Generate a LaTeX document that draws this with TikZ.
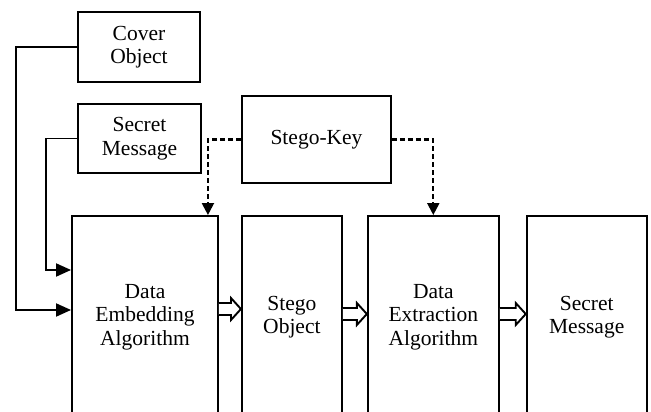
\documentclass[tikz,border=0pt]{standalone}
\usepackage{fontspec}
\setmainfont{Liberation Serif}
\usetikzlibrary{positioning,arrows.meta,calc}

% open block arrow between two neighbouring boxes, #3 = shift from the box centre
\newcommand{\fatarrow}[3]{%
    \draw[fat] ($(#1.east)+(0,#3+6)$) -- ($(#2.west)+(-10,#3+6)$) --
        ($(#2.west)+(-10,#3+11)$) -- ($(#2.west)+(0,#3)$) --
        ($(#2.west)+(-10,#3-11)$) -- ($(#2.west)+(-10,#3-6)$) --
        ($(#1.east)+(0,#3-6)$);}

\begin{document}
\begin{tikzpicture}[x=1pt,y=1pt,line width=1.9pt,
        every node/.style={font=\fontsize{21.5}{23.5}\selectfont,align=center,inner sep=0pt},
        box/.style={draw,rectangle},
        tall/.style={box,minimum height=202pt},
        feed/.style={-{Triangle[length=15pt,width=13pt]}},
        keyline/.style={line width=2.1pt,dash pattern=on 5pt off 3pt,-{Triangle[length=12pt,width=12pt]}},
        fat/.style={fill=white,line join=miter}]
    \useasboundingbox (0,0) rectangle (651,412);
    \clip (0,0) rectangle (651,412);

    % inputs
    \node[box,minimum width=122pt,minimum height=70pt] (cover) at (139,365) {Cover\\Object};
    \node[box,minimum width=123pt,minimum height=69pt] (secret) at (139.5,273.5) {Secret\\Message};
    \node[box,minimum width=149pt,minimum height=87pt] (key) at (316.5,272.5) {Stego-Key};

    % processing chain (runs off the bottom)
    \node[tall,minimum width=146pt] (embed) at (145,95) {Data\\Embedding\\Algorithm};
    \node[tall,minimum width=100pt,right=22pt of embed] (stego) {Stego\\Object};
    \node[tall,minimum width=131pt,right=24pt of stego] (extract) {Data\\Extraction\\Algorithm};
    \node[tall,minimum width=120pt,right=26pt of extract] (message) {Secret\\Message};

    % feeds into the embedding
    \draw[feed] (cover.west) -- ++(-61,0) |- ($(embed.west)+(0,7)$);
    \draw[feed] (secret.west) -- ++(-31,0) |- ($(embed.west)+(0,47)$);

    % key to both algorithms
    \draw[keyline] (key.west) -| ($(embed.north east)+(-11,0)$);
    \draw[keyline] (key.east) -| (extract.north);

    \fatarrow{embed}{stego}{8}
    \fatarrow{stego}{extract}{3}
    \fatarrow{extract}{message}{3}
\end{tikzpicture}
\end{document}
